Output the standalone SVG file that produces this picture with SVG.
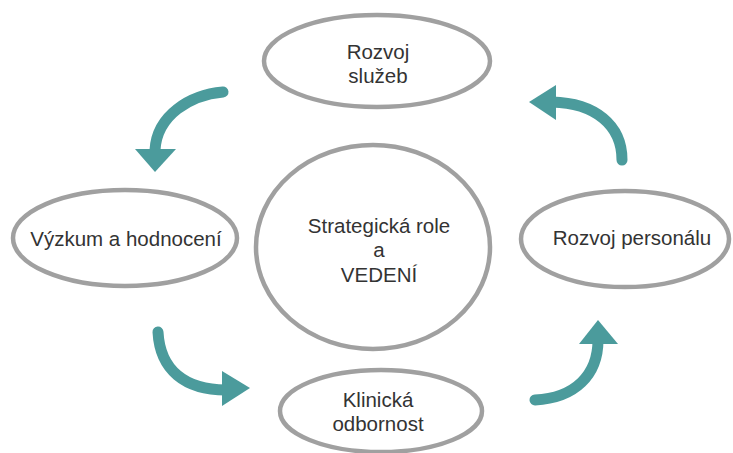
<svg xmlns="http://www.w3.org/2000/svg" width="733" height="453" viewBox="0 0 733 453">
<style>
.node{fill:#fff;stroke:#a0a0a0;stroke-width:4.5}
.lbl{font-family:"Liberation Sans",Arial,sans-serif;font-size:20.5px;fill:#333;text-anchor:middle}
.arr{fill:none;stroke:#4b9b9c;stroke-width:11;stroke-linecap:round}
.head{fill:#4b9b9c}
</style>
<rect width="733" height="453" fill="#fff"/>
<g id="connectors">
<path class="arr" d="M223,92 C190,95 157,115 155,150"/>
<polygon class="head" points="135,149 176,149 155,172"/>
<path class="arr" d="M622,160 C622,125 595,103 552,102"/>
<polygon class="head" points="529,102 556,85 556,120"/>
<path class="arr" d="M158,332 C160,370 185,390 226,390"/>
<polygon class="head" points="250,388 222,371 222,406"/>
<path class="arr" d="M535,400 C575,398 598,375 598,340"/>
<polygon class="head" points="598,320 579,344 618,344"/>
</g>
<g id="center">
<ellipse class="node" cx="373" cy="247" rx="117" ry="102"/>
<text class="lbl" x="379" y="233">Strategická role</text>
<text class="lbl" x="379" y="257">a</text>
<text class="lbl" x="379" y="282">VEDENÍ</text>
</g>
<g id="top">
<ellipse class="node" cx="377" cy="61" rx="113" ry="46"/>
<text class="lbl" x="378" y="59">Rozvoj</text>
<text class="lbl" x="378" y="83">služeb</text>
</g>
<g id="left">
<ellipse class="node" cx="125" cy="238" rx="112" ry="48"/>
<text class="lbl" x="126" y="246">Výzkum a hodnocení</text>
</g>
<g id="right">
<ellipse class="node" cx="625" cy="239" rx="104" ry="48"/>
<text class="lbl" x="632" y="245">Rozvoj personálu</text>
</g>
<g id="bottom">
<ellipse class="node" cx="381" cy="411" rx="101" ry="41"/>
<text class="lbl" x="378" y="407">Klinická</text>
<text class="lbl" x="378" y="431">odbornost</text>
</g>
</svg>
